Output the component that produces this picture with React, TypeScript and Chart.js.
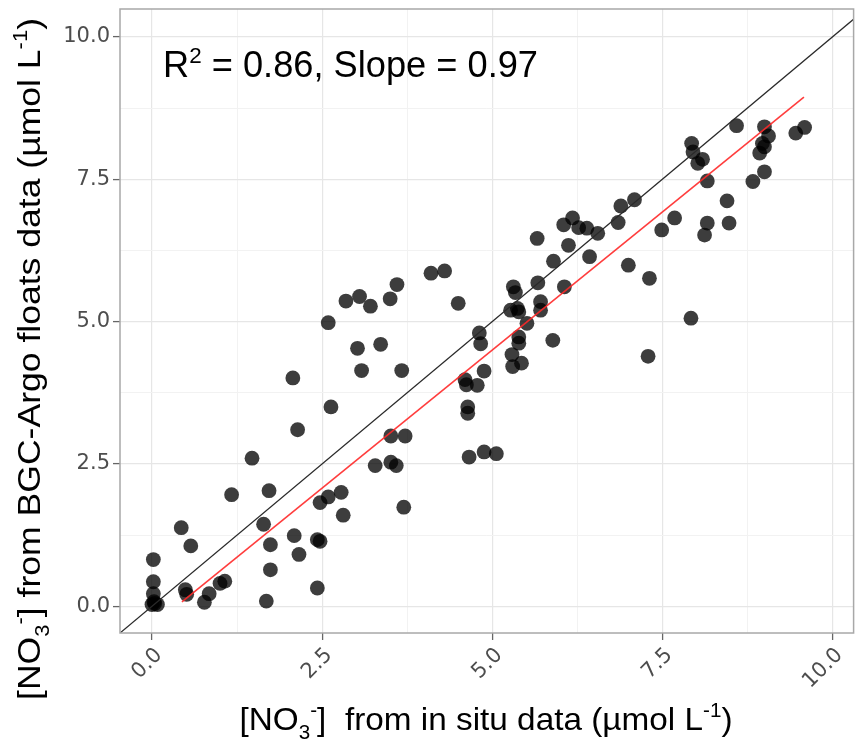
import React, { useEffect, useRef } from "react";
import { Chart, registerables } from "chart.js";

Chart.register(...registerables);

// ---- Data ----
const inSituNO3 = [
  0.02, 0.02, 0.02, 0.0, 0.04, 0.08, 0.03, 0.43, 0.57, 0.49,
  0.51, 0.77, 0.84, 1.0, 1.07, 1.17, 1.47, 1.72, 1.64, 1.74,
  1.74, 1.68, 2.14, 2.09, 2.16, 2.43, 2.43, 2.47, 2.47, 2.59,
  2.78, 2.81, 2.07, 2.63, 2.59, 2.85, 3.05, 3.21, 3.02, 3.08,
  3.36, 3.67, 3.5, 3.6, 4.1, 4.3, 4.5, 3.51, 3.72, 3.28,
  3.51, 3.59, 3.7, 4.66, 4.88, 5.06, 4.6, 4.62, 4.78, 4.64,
  4.64, 4.88, 4.81, 4.83, 5.27, 5.37, 5.39, 5.71, 5.71, 5.51,
  5.39, 5.39, 5.29, 5.3, 5.43, 5.89, 5.66, 6.05, 6.18, 6.27,
  6.39, 6.55, 6.12, 5.9, 6.43, 5.67, 5.31, 5.34, 6.06, 6.85,
  6.89, 7.09, 7.0, 7.31, 7.49, 7.68, 8.59, 7.93, 7.95, 8.02,
  8.09, 8.16, 9.0, 9.06, 8.97, 8.93, 9.0, 9.0, 8.83, 9.46,
  9.59, 8.45, 8.16, 8.12, 8.48, 7.92, 7.29,
];
const floatNO3 = [
  0.82, 0.43, 0.22, 0.03, 0.05, 0.03, 0.08, 1.38, 1.06, 0.29,
  0.21, 0.07, 0.22, 0.4, 0.44, 1.96, 2.6, 2.03, 1.44, 1.08,
  0.64, 0.09, 3.1, 1.24, 0.91, 0.32, 1.17, 1.14, 1.82, 1.92,
  2.0, 1.6, 4.01, 3.5, 4.98, 5.36, 5.44, 5.27, 4.53, 4.14,
  4.6, 4.14, 5.4, 5.65, 5.85, 5.89, 5.32, 2.99, 2.99, 2.47,
  2.53, 2.47, 1.74, 2.62, 2.71, 2.68, 3.98, 3.89, 3.88, 3.5,
  3.39, 4.13, 4.8, 4.61, 5.2, 5.23, 5.17, 5.35, 5.2, 4.97,
  4.73, 4.62, 4.42, 4.21, 4.27, 4.67, 6.46, 6.7, 6.82, 6.65,
  6.64, 6.55, 6.34, 6.06, 6.14, 5.68, 5.61, 5.51, 5.61, 6.74,
  7.03, 7.14, 5.99, 5.76, 6.61, 6.82, 8.44, 8.13, 7.98, 7.78,
  7.85, 7.47, 8.42, 8.26, 8.13, 7.96, 8.07, 7.63, 7.46, 8.31,
  8.41, 7.12, 6.73, 6.52, 6.73, 5.06, 4.39,
];

const majorTicks = [0, 2.5, 5, 7.5, 10];
const gridValues = [0, 1.25, 2.5, 3.75, 5, 6.25, 7.5, 8.75, 10];

const fitSlope = 0.97;
const fitIntercept = -0.35;
const fitXRange = [0.44, 9.58];
const identityRange = [-1, 11];

const r2Text = "0.86";
const slopeText = "0.97";

type Seg = { t: string; k: "n" | "sub" | "sup" };

const FONT = "'Liberation Sans', Arial, Helvetica, sans-serif";
const TICK_FONT = "'DejaVu Sans', 'Liberation Sans', sans-serif";

function drawRich(
  ctx: CanvasRenderingContext2D,
  segs: Seg[],
  size: number,
  x: number,
  y: number,
  angle: number,
  targetLen: number | null,
  align: "center" | "left"
) {
  const sc = (k: string) => (k === "n" ? 1 : 0.62);
  const off = (k: string) => (k === "sub" ? size * 0.28 : k === "sup" ? -size * 0.4 : 0);
  const widths: number[] = [];
  let total = 0;
  for (const s of segs) {
    ctx.font = `${size * sc(s.k)}px ${FONT}`;
    const w = ctx.measureText(s.t).width;
    widths.push(w);
    total += w;
  }
  const sx = targetLen ? targetLen / total : 1;
  ctx.save();
  ctx.translate(x, y);
  ctx.rotate(angle);
  ctx.scale(sx, 1);
  ctx.fillStyle = "#000";
  ctx.textAlign = "left";
  ctx.textBaseline = "alphabetic";
  let cx = align === "center" ? -total / 2 : 0;
  segs.forEach((s, i) => {
    ctx.font = `${size * sc(s.k)}px ${FONT}`;
    ctx.fillText(s.t, cx, off(s.k));
    cx += widths[i];
  });
  ctx.restore();
}

const decorPlugin = {
  id: "decor",
  afterDraw(chart: any) {
    const ctx: CanvasRenderingContext2D = chart.ctx;
    const a = chart.chartArea;
    ctx.save();
    ctx.strokeStyle = "#a8a8a8";
    ctx.lineWidth = 1.5;
    ctx.strokeRect(a.left, a.top, a.right - a.left, a.bottom - a.top);
    ctx.restore();

    drawRich(
      ctx,
      [
        { t: "R", k: "n" },
        { t: "2", k: "sup" },
        { t: ` = ${r2Text}, Slope = ${slopeText}`, k: "n" },
      ],
      36,
      163,
      77,
      0,
      375,
      "left"
    );

    drawRich(
      ctx,
      [
        { t: "[NO", k: "n" },
        { t: "3", k: "sub" },
        { t: "-", k: "sup" },
        { t: "]  from in situ data (µmol L", k: "n" },
        { t: "-1", k: "sup" },
        { t: ")", k: "n" },
      ],
      32,
      486,
      730,
      0,
      493,
      "center"
    );

    drawRich(
      ctx,
      [
        { t: "[NO", k: "n" },
        { t: "3", k: "sub" },
        { t: "-", k: "sup" },
        { t: "] from BGC-Argo floats data (µmol L", k: "n" },
        { t: "-1", k: "sup" },
        { t: ")", k: "n" },
      ],
      32,
      40,
      359,
      -Math.PI / 2,
      682,
      "center"
    );
  },
};

export default function App() {
  const ref = useRef<HTMLCanvasElement>(null);

  useEffect(() => {
    if (!ref.current) return;
    const points = inSituNO3.map((x, i) => ({ x, y: floatNO3[i] }));
    const fitLine = fitXRange.map((x) => ({ x, y: fitSlope * x + fitIntercept }));
    const idLine = identityRange.map((v) => ({ x: v, y: v }));

    const isMajor = (v: number) => majorTicks.some((m) => Math.abs(m - v) < 1e-6);

    const axisCommon = (isX: boolean) => ({
      type: "linear" as const,
      afterBuildTicks: (scale: any) => {
        scale.ticks = gridValues.map((v) => ({ value: v }));
      },
      border: { display: false },
      grid: {
        color: (c: any) => (c.tick && isMajor(c.tick.value) ? "#e6e6e6" : "#f2f2f2"),
        lineWidth: (c: any) => (c.tick && isMajor(c.tick.value) ? 1.2 : 1),
        drawTicks: true,
        tickLength: 7,
        tickColor: (c: any) => (c.tick && isMajor(c.tick.value) ? "#666" : "rgba(0,0,0,0)"),
        tickWidth: 1.3,
      },
      ticks: {
        autoSkip: false,
        color: "#4d4d4d",
        font: { family: TICK_FONT, size: 21 },
        padding: 3,
        labelOffset: isX ? 7 : 0,
        minRotation: isX ? 45 : 0,
        maxRotation: isX ? 45 : 0,
        callback: (v: any) => (isMajor(Number(v)) ? Number(v).toFixed(1) : ""),
      },
    });

    const chart = new Chart(ref.current, {
      type: "scatter",
      data: {
        datasets: [
          {
            type: "line",
            data: idLine,
            borderColor: "#2a2a2a",
            borderWidth: 1.3,
            pointRadius: 0,
            order: 0,
          } as any,
          {
            type: "line",
            data: fitLine,
            borderColor: "rgba(255,40,40,0.9)",
            borderWidth: 1.6,
            pointRadius: 0,
            order: 0,
          } as any,
          {
            data: points,
            backgroundColor: "rgba(0,0,0,0.76)",
            borderWidth: 0,
            pointRadius: 7.4,
            order: 1,
          },
        ],
      },
      options: {
        responsive: false,
        animation: false,
        events: [],
        layout: { padding: { left: 0, top: 9, right: 3, bottom: 0 } },
        plugins: { legend: { display: false }, tooltip: { enabled: false } },
        scales: {
          x: {
            ...axisCommon(true),
            min: -0.47,
            max: 10.31,
            afterFit: (s: any) => {
              s.height = 113;
              s.paddingLeft = 0;
              s.paddingRight = 0;
            },
          },
          y: {
            ...axisCommon(false),
            min: -0.47,
            max: 10.49,
            afterFit: (s: any) => {
              s.width = 120;
              s.paddingTop = 0;
              s.paddingBottom = 0;
            },
          },
        },
      },
      plugins: [decorPlugin],
    });
    return () => chart.destroy();
  }, []);

  return (
    <div style={{ position: "absolute", left: 0, top: 0, width: 861, height: 746, background: "#fff" }}>
      <canvas ref={ref} width={861} height={746} style={{ display: "block" }} />
    </div>
  );
}
